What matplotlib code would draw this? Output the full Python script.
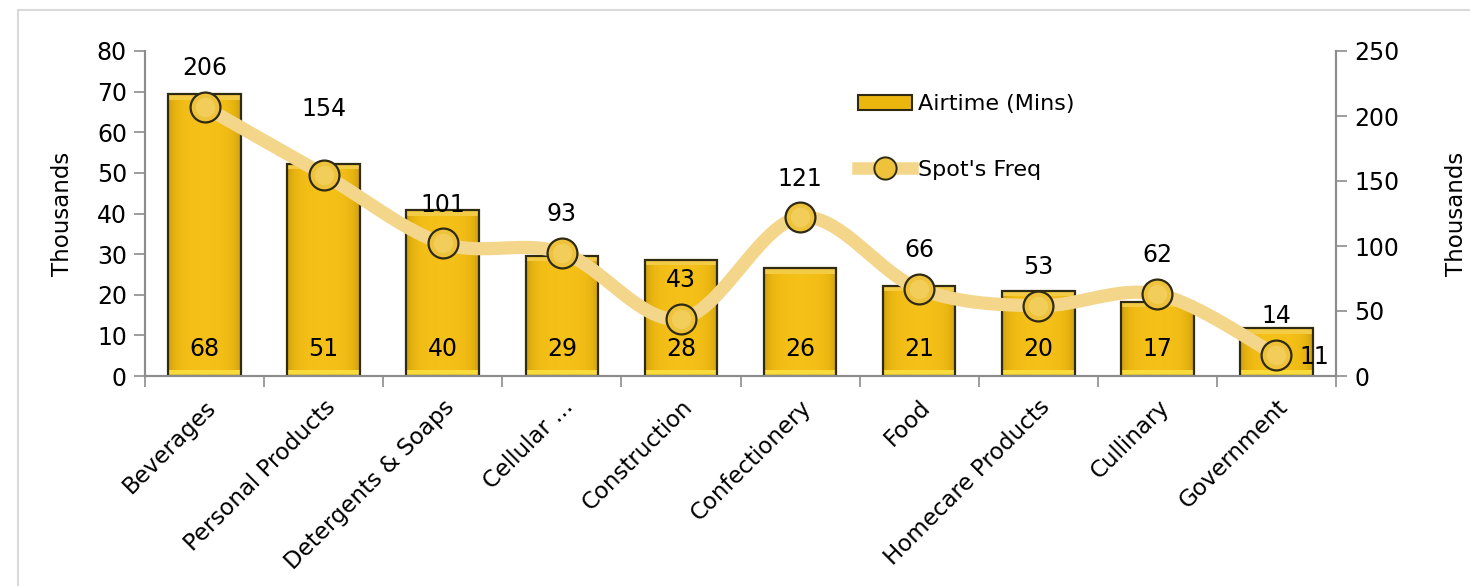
import numpy as np
import matplotlib
matplotlib.use("Agg")
import matplotlib.pyplot as plt
import matplotlib.patches as patches
import matplotlib.transforms as mtransforms
from matplotlib.lines import Line2D

# === data ===
categories = ["Beverages", "Personal Products", "Detergents & Soaps", "Cellular ...",
              "Construction", "Confectionery", "Food", "Homecare Products",
              "Cullinary", "Government"]
airtime = [69.3, 52.2, 40.8, 29.6, 28.6, 26.5, 22.2, 21.0, 18.2, 11.7]   # thousands
airtime_labels = ["68", "51", "40", "29", "28", "26", "21", "20", "17", "11"]
spots = [207, 155, 102, 95, 44, 122, 67, 54, 63, 16]                    # thousands
spots_labels = ["206", "154", "101", "93", "43", "121", "66", "53", "62", "14"]

plt.rcParams['font.family'] = ['DejaVu Sans']
BAR_MAIN = '#EBB60E'
LINE_COL = '#F4D68A'
EDGE = '#2f2a12'
AX_COL = '#8c8c8c'

fig = plt.figure(figsize=(14.7, 5.86), dpi=100)
ax = fig.add_axes([145 / 1470, 1 - 376 / 586, 1191 / 1470, 325 / 586])
ax2 = ax.twinx()

# light frame around the chart
fig.patches.append(patches.Rectangle((18 / 1470, -0.05), 1.1, 1 - 10 / 586 + 0.05,
                                     transform=fig.transFigure, fill=False,
                                     edgecolor='#d9d9d9', linewidth=1.5))

x = np.arange(len(categories))
bw = 0.61

# === bars with a simple gradient ===
prof = np.linspace(-1, 1, 60)
shade = 1 - 0.12 * prof ** 6
base = np.array(matplotlib.colors.to_rgb(BAR_MAIN))
grad = np.clip(base[None, :] * shade[:, None] + 0.04 * (1 - prof[:, None] ** 2), 0, 1)[None, :, :]
for i, h in enumerate(airtime):
    x0 = x[i] - bw / 2
    ax.imshow(grad, extent=(x0, x0 + bw, 0, h), aspect='auto', zorder=2, interpolation='bilinear')
    # bevel strips
    ax.add_patch(patches.Rectangle((x0, 0), bw, 1.6, facecolor='#F8DA3A', edgecolor='none', zorder=2.1))
    ax.add_patch(patches.Rectangle((x0, h - 1.3), bw, 1.3, facecolor='#F3CB45', edgecolor='none', zorder=2.1))
ax.bar(x, airtime, width=bw, facecolor='none', edgecolor=EDGE, linewidth=1.6, zorder=3)

for i, lab in enumerate(airtime_labels):
    dx = 27 if i == len(categories) - 1 else 0
    dy = 14 if i == len(categories) - 1 else 19.5
    ax.annotate(lab, (x[i], 0), xytext=(dx, dy), textcoords='offset points',
                ha='center', va='center', fontsize=17, zorder=6)

# === smoothed line (Catmull-Rom through the points) ===
px = np.concatenate([[x[0]], x, [x[-1]]]).astype(float)
py = np.concatenate([[spots[0]], spots, [spots[-1]]]).astype(float)
cx, cy = [], []
t = np.linspace(0, 1, 40)
for k in range(1, len(px) - 2):
    p0, p1, p2, p3 = [np.array([px[j], py[j]]) for j in (k - 1, k, k + 1, k + 2)]
    c1 = p1 + (p2 - p0) / 6
    c2 = p2 - (p3 - p1) / 6
    pts = ((1 - t) ** 3)[:, None] * p1 + (3 * (1 - t) ** 2 * t)[:, None] * c1 \
        + (3 * (1 - t) * t ** 2)[:, None] * c2 + (t ** 3)[:, None] * p2
    cx.extend(pts[:, 0])
    cy.extend(pts[:, 1])
ax2.plot(cx, cy, color=LINE_COL, linewidth=9.5, solid_capstyle='round', zorder=4)
ax2.plot(x, spots, linestyle='none', marker='o', markersize=21.5, markerfacecolor='#EEC23A',
         markeredgecolor=EDGE, markeredgewidth=1.6, zorder=5)
ax2.plot(x, spots, linestyle='none', marker='o', markersize=14, markerfacecolor='#F5D66E',
         markeredgecolor='none', zorder=5.1, alpha=0.6)

for i, lab in enumerate(spots_labels):
    dy = 47 if i == 1 else 28
    ax2.annotate(lab, (x[i], spots[i]), xytext=(0, dy), textcoords='offset points',
                 ha='center', va='center', fontsize=17, zorder=6)

# === axes ===
ax.set_xlim(-0.5, len(categories) - 0.5)
ax.set_ylim(0, 80)
ax2.set_ylim(0, 250)
ax.set_yticks(np.arange(0, 81, 10))
ax2.set_yticks(np.arange(0, 251, 50))
ax.set_xticks(x)
ax.set_xticklabels(categories, rotation=45, ha='right', rotation_mode='anchor', fontsize=16.5)
shift = mtransforms.ScaledTranslation(-6 / 100, 0, fig.dpi_scale_trans)
for lbl in ax.get_xticklabels():
    lbl.set_transform(lbl.get_transform() + shift)
ax.set_xticks(np.arange(-0.5, len(categories), 1), minor=True)
ax.tick_params(axis='x', which='major', length=0, pad=14)
ax.tick_params(axis='x', which='minor', length=8, color=AX_COL, width=1.2)
ax.tick_params(axis='y', length=8, color=AX_COL, width=1.2, labelsize=17, pad=5)
ax2.tick_params(axis='y', length=8, color=AX_COL, width=1.2, labelsize=17, pad=5)
ax.set_ylabel("Thousands", fontsize=16.5, labelpad=16)
ax2.set_ylabel("Thousands", fontsize=16.5, labelpad=33)

for a in (ax, ax2):
    a.spines['top'].set_visible(False)
    for s in ('left', 'right', 'bottom'):
        a.spines[s].set_color(AX_COL)
        a.spines[s].set_linewidth(1.5)

# === legend ===
handles = [patches.Patch(facecolor=BAR_MAIN, edgecolor=EDGE, linewidth=1.5),
           Line2D([0], [0], color=LINE_COL, linewidth=9, marker='o', markersize=16,
                  markerfacecolor='#EEC23A', markeredgecolor=EDGE, markeredgewidth=1.4)]
ax2.legend(handles, ["Airtime (Mins)", "Spot's Freq"], loc='upper left',
           bbox_to_anchor=(858 / 1470, 1 - 94 / 586), bbox_transform=fig.transFigure,
           frameon=False, fontsize=16, handlelength=2.45, handleheight=0.65,
           handletextpad=0.25, labelspacing=2.05, borderpad=0, borderaxespad=0)

fig.savefig("out.png", dpi=100)
